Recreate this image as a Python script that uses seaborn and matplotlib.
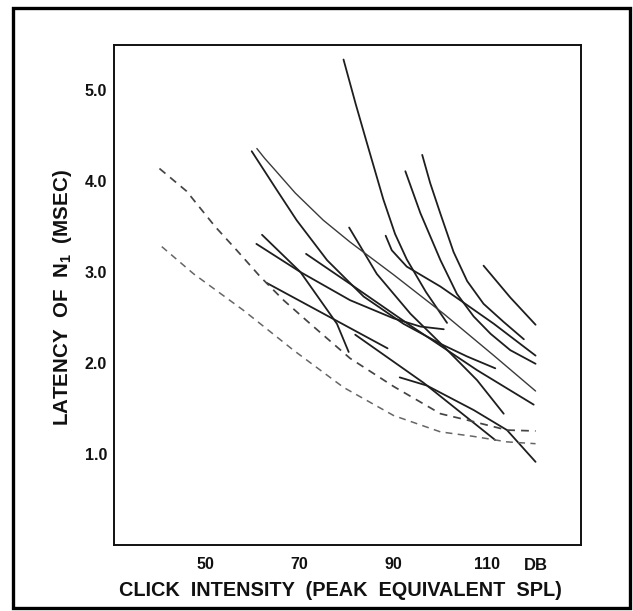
import matplotlib
matplotlib.use("Agg")
import matplotlib.pyplot as plt
import seaborn as sns
from matplotlib.patches import Rectangle

# ---------------- data ----------------
x_ticks = [50, 70, 90, 110]
x_tick_labels = ["50", "70", "90", "110"]
y_ticks = [1, 2, 3, 4, 5]
y_tick_labels = ["1.0", "2.0", "3.0", "4.0", "5.0"]

# dashed curves
dash_a_x = [40.1, 45.9, 52.0, 56.6, 61.6, 66.6, 72.3, 80.8, 90.1, 100.1, 105.8, 114.3, 120.4]
dash_a_y = [4.14, 3.89, 3.50, 3.24, 2.95, 2.69, 2.43, 2.05, 1.74, 1.44, 1.37, 1.26, 1.25]
dash_b_x = [40.6, 47.4, 58.0, 68.7, 79.4, 90.1, 100.1, 107.2, 114.3, 120.4]
dash_b_y = [3.28, 2.98, 2.58, 2.14, 1.73, 1.42, 1.24, 1.19, 1.13, 1.11]

# solid curves
c1_x = [79.4, 82.0, 84.4, 87.9, 90.4, 92.9, 97.0, 101.5]
c1_y = [5.34, 4.85, 4.42, 3.80, 3.42, 3.14, 2.78, 2.44]
c2_x = [59.8, 65.2, 69.4, 75.9, 83.7, 92.2, 100.1, 105.8, 111.8]
c2_y = [4.33, 3.90, 3.57, 3.13, 2.73, 2.43, 2.21, 2.07, 1.94]
c3_x = [60.9, 62.6, 64.5, 69.1, 75.1, 80.8, 90.1, 100.8, 111.5, 120.4]
c3_y = [4.36, 4.25, 4.14, 3.87, 3.57, 3.33, 2.97, 2.54, 2.08, 1.69]
c4_x = [92.6, 95.8, 100.1, 103.6, 107.2, 110.8, 115.0, 120.4]
c4_y = [4.11, 3.65, 3.13, 2.76, 2.51, 2.32, 2.14, 1.99]
c5_x = [96.2, 97.9, 100.1, 102.9, 105.8, 109.3, 113.6, 117.9]
c5_y = [4.29, 3.98, 3.64, 3.22, 2.90, 2.65, 2.45, 2.26]
c6_x = [62.0, 70.2, 78.0, 80.5]
c6_y = [3.41, 3.00, 2.43, 2.12]
c7_x = [60.8, 70.2, 80.8, 90.1, 95.8, 100.8]
c7_y = [3.31, 3.00, 2.69, 2.49, 2.40, 2.37]
c8_x = [71.4, 80.8, 93.7, 107.9, 120.0]
c8_y = [3.20, 2.87, 2.41, 1.92, 1.54]
c9_x = [63.0, 75.9, 88.8]
c9_y = [2.88, 2.52, 2.16]
c10_x = [80.6, 86.5, 93.7, 100.8, 107.9, 113.6]
c10_y = [3.49, 2.98, 2.54, 2.18, 1.81, 1.44]
c11_x = [88.4, 89.7, 92.9, 100.1, 104.3, 111.5, 120.4]
c11_y = [3.40, 3.24, 3.06, 2.84, 2.69, 2.43, 2.08]
c12_x = [109.3, 115.0, 120.4]
c12_y = [3.07, 2.72, 2.42]
c13_x = [81.9, 96.5, 111.8]
c13_y = [2.31, 1.78, 1.15]
c14_x = [91.4, 97.2, 107.2, 114.3, 120.4]
c14_y = [1.84, 1.75, 1.48, 1.26, 0.91]

# ---------------- figure ----------------
sns.set_style("white")
plt.rcParams['font.family'] = ['Liberation Sans', 'DejaVu Sans']

W, H = 633, 611
fig = plt.figure(figsize=(W / 100, H / 100), dpi=100)
ax = fig.add_axes([114 / W, 1 - 544.5 / H, (581 - 114) / W, (544.5 - 45) / H])

solid = [(c1_x, c1_y), (c2_x, c2_y), (c4_x, c4_y), (c5_x, c5_y), (c6_x, c6_y),
         (c7_x, c7_y), (c8_x, c8_y), (c9_x, c9_y), (c10_x, c10_y), (c11_x, c11_y),
         (c12_x, c12_y), (c13_x, c13_y), (c14_x, c14_y)]
for xs, ys in solid:
    sns.lineplot(x=xs, y=ys, ax=ax, color="#1e1e1e", lw=1.3, sort=False,
                 estimator=None)
# thinner, lighter long curve
sns.lineplot(x=c3_x, y=c3_y, ax=ax, color="#3a3a3a", lw=1.0, sort=False, estimator=None)

sns.lineplot(x=dash_a_x, y=dash_a_y, ax=ax, color="#444444", lw=1.25, sort=False,
             estimator=None, linestyle=(0, (4.5, 3.5)))
sns.lineplot(x=dash_b_x, y=dash_b_y, ax=ax, color="#666666", lw=1.1, sort=False,
             estimator=None, linestyle=(0, (4.5, 3.5)))

ax.set_xlim(30.4, 130.1)
ax.set_ylim(0, 5.5)

for s in ax.spines.values():
    s.set_visible(True)
    s.set_color("#111111")
    s.set_linewidth(1.4)

tick_font = dict(family=['Liberation Sans', 'DejaVu Sans'], weight='bold', size=11.5)
ax.set_xticks(x_ticks)
ax.set_xticklabels(x_tick_labels, fontdict=tick_font)
ax.set_yticks(y_ticks)
ax.set_yticklabels(y_tick_labels, fontdict=tick_font)
ax.tick_params(axis='x', direction='in', length=15.5, width=1.3, pad=9, colors="#111111")
ax.tick_params(axis='y', direction='in', length=17.5, width=1.3, pad=5, colors="#111111")

fig.text(536 / W, 1 - 566 / H, "DB", ha='center', va='center',
         fontsize=12, fontweight='bold', color="#111111")

ax.set_xlabel("")
ax.set_ylabel("")
fig.text(340 / W, 1 - 590 / H, "CLICK  INTENSITY  (PEAK  EQUIVALENT  SPL)",
         ha='center', va='center', fontsize=14.3, fontweight='bold', color="#111111")
fig.text(63 / W, 1 - 298 / H, r"LATENCY  OF  N$\mathregular{_1}$  (MSEC)",
         ha='center', va='center', rotation=90, fontsize=14.8, fontweight='bold',
         color="#111111")

# outer frame of the figure
fig.patches.append(Rectangle((13 / W, 1 - 608 / H), (630 - 13) / W, (608 - 8) / H,
                             transform=fig.transFigure, fill=False, lw=2.4,
                             edgecolor="black"))

fig.savefig("out.png", dpi=100)
